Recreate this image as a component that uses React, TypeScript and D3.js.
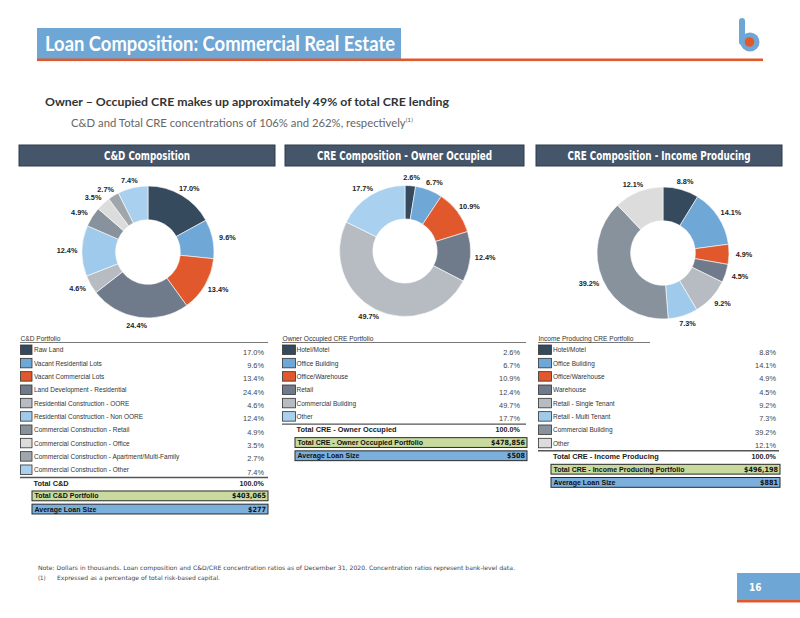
import React from 'react';
import * as d3 from 'd3';

// ---------- data ----------
const cdCategories = [
  'Raw Land',
  'Vacant Residential Lots',
  'Vacant Commercial Lots',
  'Land Development - Residential',
  'Residential Construction - OORE',
  'Residential Construction - Non OORE',
  'Commercial Construction - Retail',
  'Commercial Construction - Office',
  'Commercial Construction - Apartment/Multi-Family',
  'Commercial Construction - Other',
];
const cdValues = [17.0, 9.6, 13.4, 24.4, 4.6, 12.4, 4.9, 3.5, 2.7, 7.4];
const cdTotals = ['Total C&D', '100.0%', 'Total C&D Portfolio', '$403,065', '$277'];

const ooCategories = ['Hotel/Motel', 'Office Building', 'Office/Warehouse', 'Retail', 'Commercial Building', 'Other'];
const ooValues = [2.6, 6.7, 10.9, 12.4, 49.7, 17.7];
const ooTotals = ['Total CRE - Owner Occupied', '100.0%', 'Total CRE - Owner Occupied Portfolio', '$478,856', '$508'];

const ipCategories = [
  'Hotel/Motel',
  'Office Building',
  'Office/Warehouse',
  'Warehouse',
  'Retail - Single Tenant',
  'Retail - Multi Tenant',
  'Commercial Building',
  'Other',
];
const ipValues = [8.8, 14.1, 4.9, 4.5, 9.2, 7.3, 39.2, 12.1];
const ipTotals = ['Total CRE - Income Producing', '100.0%', 'Total CRE - Income Producing Portfolio', '$496,198', '$881'];

const panelTitles = ['C&D Composition', 'CRE Composition - Owner Occupied', 'CRE Composition - Income Producing'];
const tableTitles = ['C&D Portfolio', 'Owner Occupied CRE Portfolio', 'Income Producing CRE Portfolio'];

// ---------- styles ----------
const C = {
  navy: '#364a5e',
  blue: '#6fa7d6',
  orange: '#e0582b',
  slate: '#6f7b8b',
  lgray: '#b7bcc3',
  lblue: '#9fcaec',
  gray: '#88929d',
  vlgray: '#dcdcdc',
  mgray: '#a1a6ac',
  lblue2: '#a9d0ef',
};
const cdColors = [C.navy, C.blue, C.orange, C.slate, C.lgray, C.lblue, C.gray, C.vlgray, C.mgray, C.lblue2];
const ooColors = [C.navy, C.blue, C.orange, C.slate, C.lgray, C.lblue2];
const ipColors = [C.navy, C.blue, C.orange, C.slate, C.lgray, C.lblue, C.gray, C.vlgray];

const ARIAL = '"Liberation Sans", Arial, sans-serif';
const NARROW = '"Liberation Sans Narrow", "DejaVu Sans Condensed", "Liberation Sans", sans-serif';
const LATO = 'Lato, "Open Sans", sans-serif';

function Donut({ cx, cy, r, values, colors }: { cx: number; cy: number; r: number; values: number[]; colors: string[] }) {
  const pie = d3.pie<number>().sort(null).value((d) => d);
  const arcs = pie(values);
  const arc = d3.arc<d3.PieArcDatum<number>>().innerRadius(r * 0.49).outerRadius(r);
  return (
    <g transform={`translate(${cx},${cy})`}>
      {arcs.map((a, i) => (
        <path key={i} d={arc(a) || ''} fill={colors[i]} stroke="#fff" strokeWidth={0.6} />
      ))}
      {arcs.map((a, i) => {
        const m = (a.startAngle + a.endAngle) / 2;
        const lx = (r + 12) * Math.sin(m) + 3 * Math.sin(m);
        const ly = -(r + 8) * Math.cos(m) + 2.6;
        return (
          <text key={'l' + i} x={lx} y={ly} textAnchor="middle" fontFamily={ARIAL} fontWeight="bold" fontSize={7.3} fill="#222">
            {d3.format('.1f')(a.data)}%
          </text>
        );
      })}
    </g>
  );
}

type TableProps = {
  title: string;
  categories: string[];
  values: number[];
  colors: string[];
  totals: string[];
  left: number;
  right: number;
  underlineRight: number;
  swatchW: number;
  labelX: number;
  valueRight: number;
  boxLeft: number;
  boxRight: number;
  totalX: number;
};

function PortfolioTable(p: TableProps) {
  const top = 345;
  const step = 13.33;
  const sh = 9.5;
  const y = d3.scaleLinear().domain([0, 1]).range([top, top + step]);
  const lastBottom = y(p.categories.length - 1) + sh;
  const lineY = lastBottom + 3;
  const greenY = lineY + 13.5;
  const blueY = greenY + 13.2;
  const bh = 9.8;
  return (
    <g>
      <text x={p.left + 0.5} y={340.5} fontFamily={ARIAL} fontSize={6.6} fill="#333">
        {p.title}
      </text>
      <line x1={p.left} x2={p.underlineRight} y1={342.5} y2={342.5} stroke="#555" strokeWidth={0.8} />
      {p.categories.map((c, i) => (
        <g key={i}>
          <rect x={p.left + 0.5} y={y(i)} width={p.swatchW} height={sh} fill={p.colors[i]} stroke="#333" strokeWidth={0.8} />
          <text x={p.labelX} y={y(i) + 7.2} fontFamily={ARIAL} fontSize={6.5} fill="#333">
            {c}
          </text>
          <text x={p.valueRight} y={y(i) + 9.6} textAnchor="end" fontFamily={ARIAL} fontSize={7.4} fill="#444">
            {d3.format('.1f')(p.values[i])}%
          </text>
        </g>
      ))}
      <line x1={p.left} x2={p.right} y1={lineY} y2={lineY} stroke="#555" strokeWidth={1.4} />
      <text x={p.totalX} y={lineY + 8.3} fontFamily={ARIAL} fontWeight="bold" fontSize={7.4} fill="#222">
        {p.totals[0]}
      </text>
      <text x={p.valueRight} y={lineY + 8.3} textAnchor="end" fontFamily={ARIAL} fontWeight="bold" fontSize={7.2} fill="#222">
        {p.totals[1]}
      </text>
      <rect x={p.boxLeft} y={greenY} width={p.boxRight - p.boxLeft} height={bh} fill="#c8da9d" stroke="#2a2a2a" strokeWidth={1} />
      <text x={p.boxLeft + 2.5} y={greenY + 7.4} fontFamily={ARIAL} fontWeight="bold" fontSize={7} fill="#111">
        {p.totals[2]}
      </text>
      <text x={p.boxRight - 2} y={greenY + 7.4} textAnchor="end" fontFamily={NARROW} fontWeight="bold" fontSize={7.2} fill="#111">
        {p.totals[3]}
      </text>
      <rect x={p.boxLeft} y={blueY} width={p.boxRight - p.boxLeft} height={bh} fill="#7cb0dc" stroke="#2a2a2a" strokeWidth={1} />
      <text x={p.boxLeft + 2.5} y={blueY + 7.4} fontFamily={ARIAL} fontWeight="bold" fontSize={7} fill="#111">
        Average Loan Size
      </text>
      <text x={p.boxRight - 2} y={blueY + 7.4} textAnchor="end" fontFamily={NARROW} fontWeight="bold" fontSize={7.2} fill="#111">
        {p.totals[4]}
      </text>
    </g>
  );
}

export default function App() {
  const panels = [
    { x0: 19, x1: 275, tl: 86 },
    { x0: 285, x1: 524, tl: 175 },
    { x0: 536, x1: 782, tl: 183 },
  ];
  return (
    <svg width={800} height={618} style={{ position: 'absolute', left: 0, top: 0, background: '#fff' }}>
      <rect width={800} height={618} fill="#fff" />
      {/* header */}
      <rect x={37} y={28} width={364} height={31} fill="#6ea6d5" />
      <rect x={37} y={58.5} width={726} height={2.6} fill="#e0582b" />
      <text x={45} y={50.5} fontFamily={LATO} fontWeight="bold" fontSize={21} fill="#fff" textLength={350} lengthAdjust="spacingAndGlyphs">
        Loan Composition: Commercial Real Estate
      </text>
      {/* logo */}
      <line x1={742} y1={21} x2={742} y2={42} stroke="#6ea6d5" strokeWidth={6} strokeLinecap="round" />
      <circle cx={750} cy={42} r={9.5} fill="#6ea6d5" />
      <circle cx={749.5} cy={42} r={4.8} fill="#e2582a" />
      {/* subtitles */}
      <text x={45} y={106} fontFamily={LATO} fontWeight="bold" fontSize={12} fill="#333" textLength={404} lengthAdjust="spacingAndGlyphs">
        Owner – Occupied CRE makes up approximately 49% of total CRE lending
      </text>
      <text x={71} y={127} fontFamily={LATO} fontSize={11.3} fill="#666">
        C&amp;D and Total CRE concentrations of 106% and 262%, respectively
        <tspan fontSize={6.5} dy={-5.5}>
          (1)
        </tspan>
      </text>
      {/* panel headers */}
      {panels.map((p, i) => (
        <g key={i}>
          <rect x={p.x0} y={145} width={p.x1 - p.x0} height={21} fill="#45556a" stroke="#2e3a48" strokeWidth={1} />
          <text
            x={(p.x0 + p.x1) / 2}
            y={159.5}
            textAnchor="middle"
            fontFamily={NARROW}
            fontWeight="bold"
            fontSize={11.5}
            fill="#fff"
            textLength={p.tl}
            lengthAdjust="spacingAndGlyphs"
          >
            {panelTitles[i]}
          </text>
        </g>
      ))}
      {/* donuts */}
      <Donut cx={148} cy={252} r={66} values={cdValues} colors={cdColors} />
      <Donut cx={405} cy={251} r={65.5} values={ooValues} colors={ooColors} />
      <Donut cx={663} cy={253} r={66} values={ipValues} colors={ipColors} />
      {/* tables */}
      <PortfolioTable
        title={tableTitles[0]}
        categories={cdCategories}
        values={cdValues}
        colors={cdColors}
        totals={cdTotals}
        left={20}
        right={268}
        underlineRight={268}
        swatchW={11.5}
        labelX={34}
        valueRight={264}
        boxLeft={32}
        boxRight={268}
        totalX={33.5}
      />
      <PortfolioTable
        title={tableTitles[1]}
        categories={ooCategories}
        values={ooValues}
        colors={ooColors}
        totals={ooTotals}
        left={282}
        right={526}
        underlineRight={526}
        swatchW={13}
        labelX={296.5}
        valueRight={520}
        boxLeft={295}
        boxRight={527}
        totalX={296.5}
      />
      <PortfolioTable
        title={tableTitles[2]}
        categories={ipCategories}
        values={ipValues}
        colors={ipColors}
        totals={ipTotals}
        left={538}
        right={779}
        underlineRight={650}
        swatchW={13}
        labelX={553}
        valueRight={776}
        boxLeft={551}
        boxRight={780}
        totalX={553}
      />
      {/* footnotes */}
      <text x={38} y={570} fontFamily={NARROW} fontSize={6} fill="#444" textLength={477} lengthAdjust="spacingAndGlyphs">
        Note: Dollars in thousands. Loan composition and C&amp;D/CRE concentration ratios as of December 31, 2020. Concentration ratios represent bank-level data.
      </text>
      <text x={38} y={580} fontFamily={NARROW} fontSize={6} fill="#444">
        (1)
      </text>
      <text x={57} y={580} fontFamily={NARROW} fontSize={6} fill="#444" textLength={163} lengthAdjust="spacingAndGlyphs">
        Expressed as a percentage of total risk-based capital.
      </text>
      {/* page number */}
      <rect x={737} y={573} width={63} height={27} fill="#6ea6d5" />
      <rect x={737} y={600} width={63} height={2.5} fill="#e0582b" />
      <text x={749} y={591} fontFamily={NARROW} fontWeight="bold" fontSize={10} fill="#fff">
        16
      </text>
    </svg>
  );
}
